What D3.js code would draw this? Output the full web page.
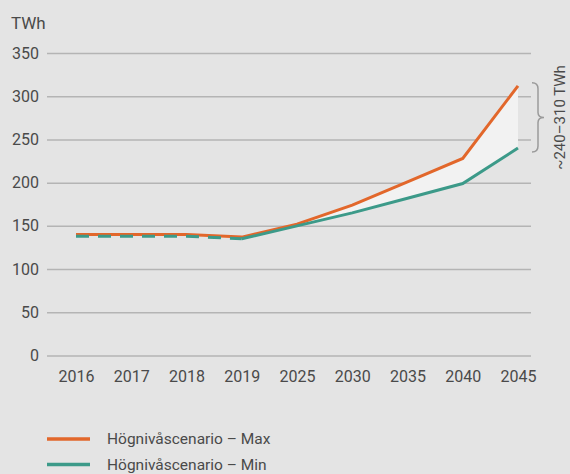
<!DOCTYPE html>
<html><head><meta charset="utf-8">
<script src="https://cdn.jsdelivr.net/npm/d3@7/dist/d3.min.js"></script>
<style>body{margin:0;background:#e4e4e4;}svg{display:block;font-family:Roboto,"Noto Sans",sans-serif;}</style>
</head><body><svg id="c" width="570" height="474"></svg>
<script>
const years = ["2016","2017","2018","2019","2025","2030","2035","2040","2045"];
const maxValues = [140,140,140,137,152,174,201,228,312];
const minValues = [138,138,138,135,150,165,182,199,240];
const yTicks = [0,50,100,150,200,250,300,350];
const seriesNames = ["Högnivåscenario – Max","Högnivåscenario – Min"];
const rangeLabel = "~240–310 TWh";
const unitLabel = "TWh";

const svg = d3.select("#c");
svg.append("rect").attr("width",570).attr("height",474).attr("fill","#e4e4e4");
const x = d3.scalePoint().domain(years).range([76,518]);
const y = d3.scaleLinear().domain([0,350]).range([355.5,53]);
const orange = "#e2672b", green = "#3c9a89", text = "#4a4a4a";

// grid
const yAxis = d3.axisLeft(y).tickValues(yTicks).tickSize(0).tickPadding(8);
const gy = svg.append("g").attr("transform","translate(47,0)").call(yAxis);
gy.select(".domain").remove();
gy.selectAll("text").attr("font-size",16).attr("fill",text).attr("x",-8).attr("font-family","Roboto,sans-serif");
gy.selectAll(".tick").append("line").attr("x1",0).attr("x2",484).attr("stroke","#b4b4b4").attr("stroke-width",1.5);

const xAxis = d3.axisBottom(x).tickSize(0).tickPadding(0);
const gx = svg.append("g").attr("transform","translate(0,372)").call(xAxis);
gx.select(".domain").remove();
gx.selectAll("text").attr("font-size",16).attr("fill",text).attr("dy","0.6em").attr("font-family","Roboto,sans-serif");

svg.append("text").attr("x",11).attr("y",29).attr("font-size",17).attr("fill",text).text(unitLabel);

// area between
const idx = d3.range(3, years.length);
svg.append("path").datum(idx)
  .attr("d", d3.area().x(i=>x(years[i])).y0(i=>y(minValues[i])).y1(i=>y(maxValues[i])))
  .attr("fill","#f2f2f2");

const line = vals => d3.line().x((d,i)=>x(years[i])).y(d=>y(d))(vals);
svg.append("path").attr("d", line(maxValues))
  .attr("fill","none").attr("stroke",orange).attr("stroke-width",3);
// min line: dashed historic, solid forecast
const minHist = minValues.slice(0,4);
svg.append("path").attr("d", d3.line().x((d,i)=>x(years[i])).y(d=>y(d))(minHist))
  .attr("fill","none").attr("stroke",green).attr("stroke-width",3).attr("stroke-dasharray","13,9");
svg.append("path").attr("d", d3.line().x((d,i)=>x(years[i+3])).y(d=>y(d))(minValues.slice(3)))
  .attr("fill","none").attr("stroke",green).attr("stroke-width",3);

// bracket
const yTop = y(maxValues[8]) - 3, yBot = y(minValues[8]) + 4, yMid = (yTop+yBot)/2;
const bx = 532;
svg.append("path")
  .attr("d",`M${bx},${yTop} Q${bx+6},${yTop} ${bx+6},${yTop+6} L${bx+6},${yMid-5} Q${bx+6},${yMid} ${bx+12},${yMid} Q${bx+6},${yMid} ${bx+6},${yMid+5} L${bx+6},${yBot-6} Q${bx+6},${yBot} ${bx},${yBot}`)
  .attr("fill","none").attr("stroke","#9a9a9a").attr("stroke-width",1.5);
svg.append("text").attr("transform",`translate(565,${yMid}) rotate(-90)`)
  .attr("text-anchor","middle").attr("font-size",15).attr("fill",text).text(rangeLabel);

// legend
const leg = svg.append("g");
[orange, green].forEach((c,i)=>{
  const ly = 439 + i*25.5;
  leg.append("line").attr("x1",47).attr("x2",90).attr("y1",ly).attr("y2",ly).attr("stroke",c).attr("stroke-width",3.5);
  leg.append("text").attr("x",107).attr("y",ly).attr("dy","0.35em").attr("font-size",15.5).attr("fill",text).text(seriesNames[i]);
});
</script></body></html>
